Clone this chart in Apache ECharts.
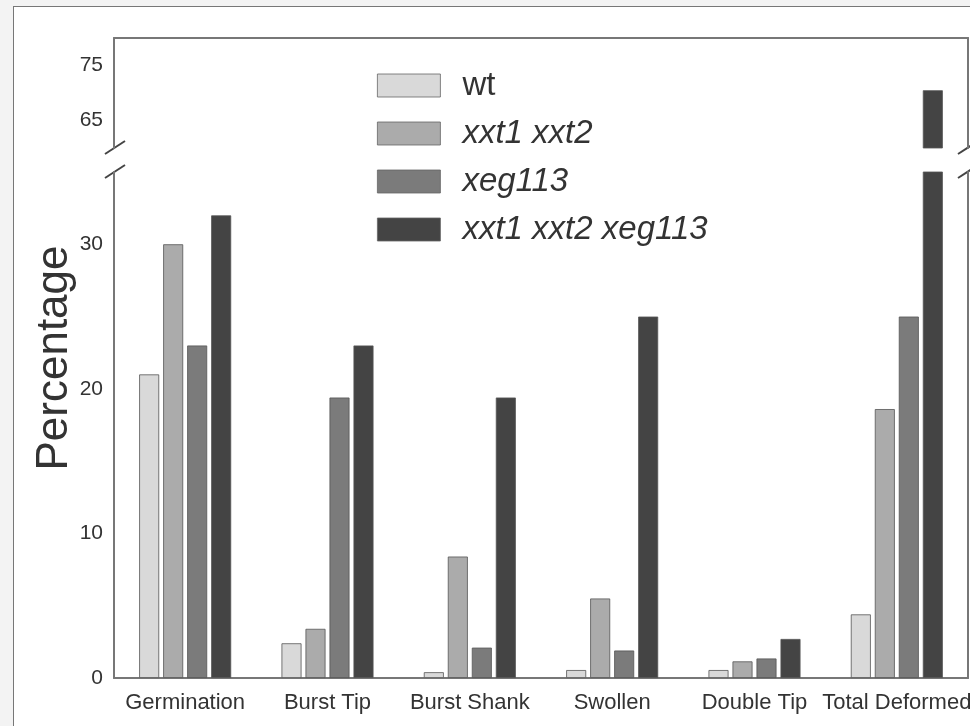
<!DOCTYPE html>
<html>
<head>
<meta charset="utf-8">
<script src="https://cdn.jsdelivr.net/npm/echarts@6/dist/echarts.min.js"></script>
<style>
html,body{margin:0;padding:0;background:#f3f3f3;width:970px;height:726px;overflow:hidden;}
#frame{position:absolute;left:13px;top:6px;width:1000px;height:800px;background:#fff;border:1px solid #777;}
#chart{position:absolute;left:0;top:0;width:970px;height:726px;}
</style>
</head>
<body>
<div id="frame"></div>
<div id="chart"></div>
<script>
const categories = ['Germination', 'Burst Tip', 'Burst Shank', 'Swollen', 'Double Tip', 'Total Deformed'];
const seriesNames = ['wt', 'xxt1 xxt2', 'xeg113', 'xxt1 xxt2 xeg113'];
const wt = [21, 2.4, 0.4, 0.55, 0.55, 4.4];
const xxt = [30, 3.4, 8.4, 5.5, 1.15, 18.6];
const xeg = [23, 19.4, 2.1, 1.9, 1.35, 25];
const triple = [32, 23, 19.4, 25, 2.7, 70.5];
const lowerTicks = [0, 10, 20, 30];
const upperTicks = [65, 75];
const lowerRange = [0, 35];
const upperRange = [60, 80];

const colors = ['#d9d9d9', '#ababab', '#7b7b7b', '#444444'];
const allData = [wt, xxt, xeg, triple];

const chart = echarts.init(document.getElementById('chart'));
const FONT = 'Liberation Sans, Arial, sans-serif';
const axisLineStyle = { color: '#777', width: 2 };

const series = [];
[0, 1].forEach(g => {
  allData.forEach((d, i) => {
    series.push({
      name: seriesNames[i],
      type: 'bar',
      xAxisIndex: g,
      yAxisIndex: g * 2,
      data: d,
      barWidth: 20,
      barGap: '20%',
      clip: true,
      itemStyle: { color: colors[i], borderColor: '#555', borderWidth: 0.8 },
      emphasis: { disabled: true }
    });
  });
});

const yAxisBase = (gi, range, ticks, pos, showLabels) => ({
  type: 'value',
  gridIndex: gi,
  position: pos,
  min: range[0],
  max: range[1],
  interval: 5,
  splitLine: { show: false },
  axisTick: { show: false },
  axisLine: { show: true, lineStyle: axisLineStyle },
  axisLabel: {
    show: showLabels,
    customValues: ticks,
    fontSize: 21,
    color: '#333',
    fontFamily: FONT,
    margin: 11
  }
});

chart.setOption({
  animation: false,
  textStyle: { fontFamily: FONT },
  grid: [
    { left: 114, right: 2, top: 38, height: 110, outerBoundsMode: 'none', containLabel: false },
    { left: 114, right: 2, top: 172, bottom: 48, outerBoundsMode: 'none', containLabel: false }
  ],
  xAxis: [
    {
      type: 'category', gridIndex: 0, data: categories, position: 'top',
      axisLine: { show: true, lineStyle: axisLineStyle },
      axisTick: { show: false }, axisLabel: { show: false }
    },
    {
      type: 'category', gridIndex: 1, data: categories, position: 'bottom',
      axisLine: { show: true, lineStyle: axisLineStyle },
      axisTick: { show: false },
      axisLabel: { fontSize: 22, color: '#333', fontFamily: FONT, margin: 14, interval: 0 }
    }
  ],
  yAxis: [
    yAxisBase(0, upperRange, upperTicks, 'left', true),
    yAxisBase(0, upperRange, upperTicks, 'right', false),
    yAxisBase(1, lowerRange, lowerTicks, 'left', true),
    yAxisBase(1, lowerRange, lowerTicks, 'right', false)
  ],
  legend: {
    data: seriesNames,
    orient: 'vertical',
    left: 377,
    top: 69,
    padding: 0,
    itemWidth: 63,
    itemHeight: 23,
    itemGap: 15,
    icon: 'rect',
    selectedMode: false,
    itemStyle: { borderWidth: 0.8, borderColor: '#666' },
    formatter: n => n === 'wt' ? '{n|' + n + '}' : '{i|' + n + '}',
    textStyle: {
      color: '#333',
      fontSize: 33,
      lineHeight: 32,
      padding: [0, 0, 0, 17],
      rich: {
        n: { fontSize: 33, fontFamily: FONT, color: '#333', fontStyle: 'normal' },
        i: { fontSize: 33, fontFamily: FONT, color: '#333', fontStyle: 'italic' }
      }
    }
  },
  graphic: [
    {
      type: 'text', x: 55, y: 358, rotation: Math.PI / 2,
      style: { text: 'Percentage', font: '44px ' + FONT, fill: '#333', align: 'center', verticalAlign: 'middle' }
    },
    { type: 'line', shape: { x1: 105, y1: 154, x2: 125, y2: 141 }, style: { stroke: '#444', lineWidth: 2 } },
    { type: 'line', shape: { x1: 105, y1: 178, x2: 125, y2: 165 }, style: { stroke: '#444', lineWidth: 2 } },
    { type: 'line', shape: { x1: 958, y1: 154, x2: 978, y2: 141 }, style: { stroke: '#444', lineWidth: 2 } },
    { type: 'line', shape: { x1: 958, y1: 178, x2: 978, y2: 165 }, style: { stroke: '#444', lineWidth: 2 } }
  ],
  series: series
});
</script>
</body>
</html>
